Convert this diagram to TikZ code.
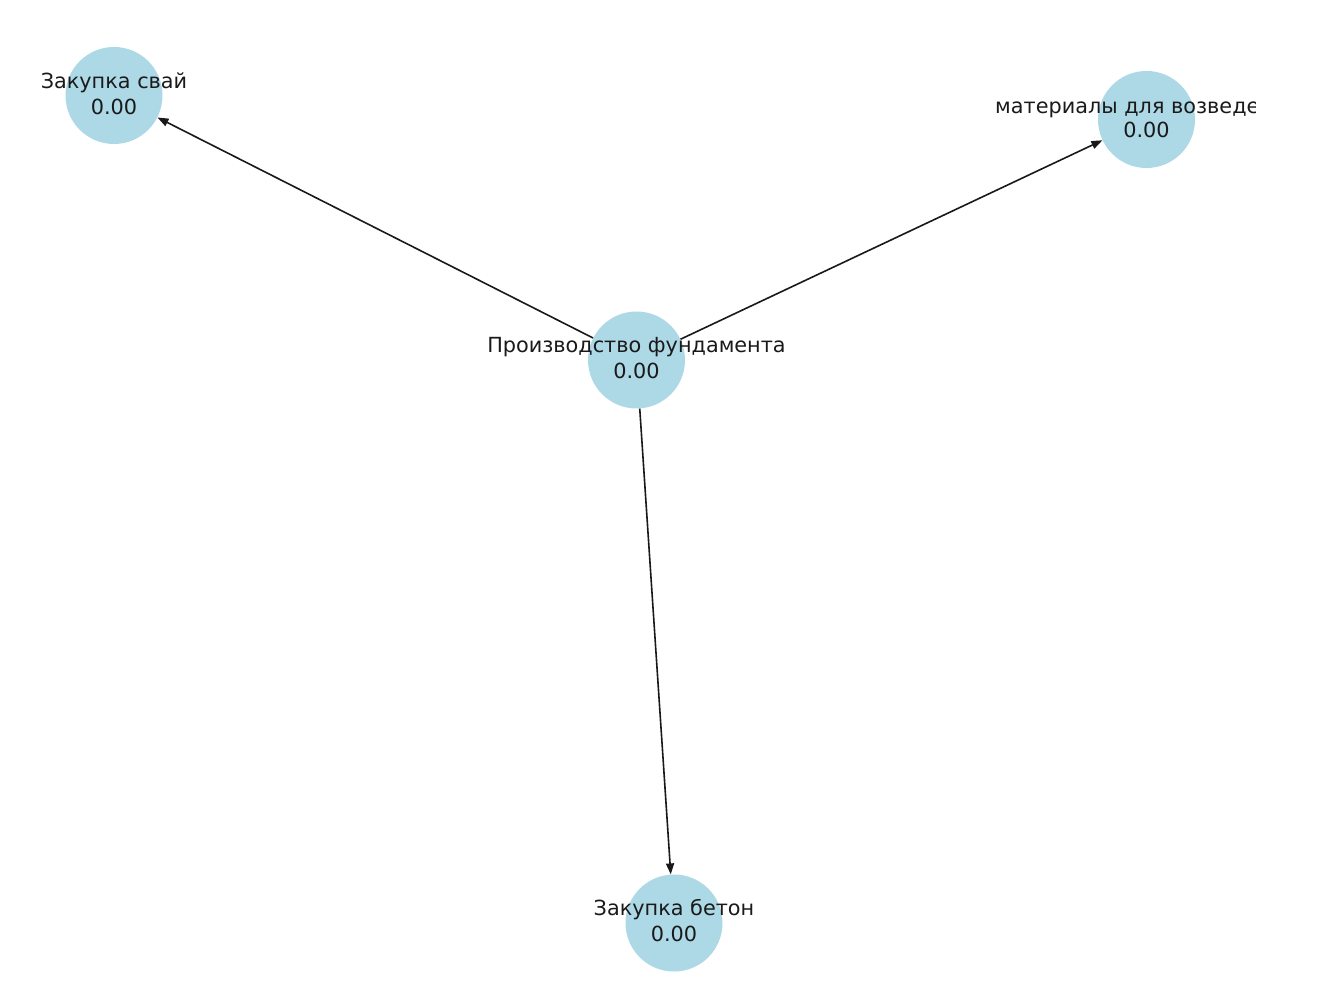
\documentclass[tikz,border=0pt]{standalone}
\usepackage{fontspec}
\setmainfont{DejaVu Sans}
\usetikzlibrary{arrows.meta}
\definecolor{nodeblue}{HTML}{ADD8E6}
\definecolor{txt}{HTML}{1A1A1A}
\tikzset{
  x=1pt,y=1pt,
  vert/.style={circle,fill=nodeblue,minimum size=97pt,inner sep=0pt,draw=none},
  lbl/.style={align=center,font=\fontsize{20.8}{26}\selectfont,text=txt,inner sep=0pt},
  edge/.style={draw=black!90,line width=1.6pt,-{Triangle[length=11pt,width=8pt]}}
}
\begin{document}
\begin{tikzpicture}
\useasboundingbox (0,0) rectangle (1341,989);
\node[vert] (S) at (114,893.5) {};
\node[vert] (M) at (1146.5,869.5) {};
\node[vert] (P) at (636.5,629) {};
\node[vert] (B) at (674,66) {};
\draw[edge] (P) -- (S);
\draw[edge] (P) -- (M);
\draw[edge] (P) -- (B);
\node[lbl] (tS) at (114,895) {Закупка свай\\0.00};
\node[lbl] (tP) at (636.5,631) {Производство фундамента\\0.00};
\node[lbl] (tB) at (674,68) {Закупка бетон\\0.00};
\begin{scope}
\clip (0,0) rectangle (1255,989);
\node[lbl,anchor=north west] (tM) at (995,887.5) {материалы для возведе};
\node[lbl] (tMv) at (1146.5,859) {0.00};
\end{scope}
\end{tikzpicture}
\end{document}
